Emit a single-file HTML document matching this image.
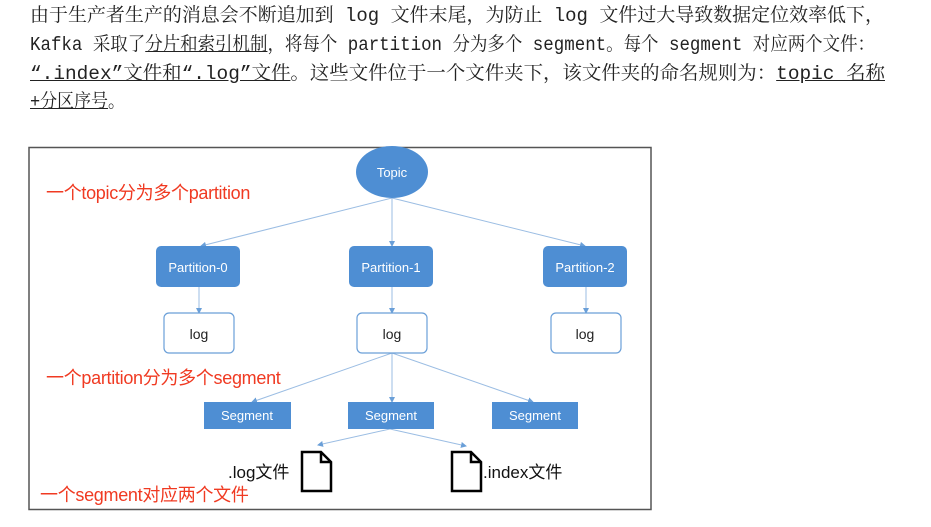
<!DOCTYPE html>
<html><head><meta charset="utf-8"><style>
body{margin:0;width:931px;height:527px;background:#fff;overflow:hidden;position:relative;font-family:"Liberation Sans","Noto Sans CJK SC",sans-serif}
.t{position:absolute;left:30px;font-family:"Liberation Mono","Noto Serif CJK SC",serif;font-size:19px;line-height:24px;color:#222;white-space:nowrap;transform-origin:0 50%}
.u{text-decoration:underline}
</style></head><body>
<div class="t" data-w="854" style="top:4px">由于生产者生产的消息会不断追加到 log 文件末尾，为防止 log 文件过大导致数据定位效率低下，</div>
<div class="t" data-w="845" style="top:33px">Kafka 采取了<span class="u">分片和索引机制</span>，将每个 partition 分为多个 segment。每个 segment 对应两个文件：</div>
<div class="t" data-w="855" style="top:62px"><span class="u">“.index”文件和“.log”文件</span>。这些文件位于一个文件夹下，该文件夹的命名规则为：<span class="u">topic 名称</span></div>
<div class="t" data-w="95" style="top:90px"><span class="u">+分区序号</span>。</div>
<script>
document.querySelectorAll('.t').forEach(function(e){var w=e.getBoundingClientRect().width;var t=+e.getAttribute('data-w');if(w>0)e.style.transform='scaleX('+(t/w)+')';});
</script>
<svg width="931" height="527" style="position:absolute;left:0;top:0" font-family="Liberation Sans, Noto Sans CJK SC, sans-serif">
<defs><marker id="a" markerWidth="6" markerHeight="6" refX="5" refY="3" orient="auto"><path d="M0,0 L6,3 L0,6z" fill="#6a9fd8"/></marker></defs>
<rect x="29" y="147.5" width="622" height="362" fill="none" stroke="#555" stroke-width="1.5"/>
<g stroke="#9bbde3" stroke-width="1" marker-end="url(#a)">
<line x1="392" y1="198" x2="201" y2="246"/>
<line x1="392" y1="198" x2="392" y2="246"/>
<line x1="392" y1="198" x2="585" y2="246"/>
<line x1="199" y1="287" x2="199" y2="313"/>
<line x1="392" y1="287" x2="392" y2="313"/>
<line x1="586" y1="287" x2="586" y2="313"/>
<line x1="392" y1="353" x2="252" y2="402"/>
<line x1="392" y1="353" x2="392" y2="402"/>
<line x1="392" y1="353" x2="533" y2="402"/>
<line x1="390" y1="429" x2="318" y2="445"/>
<line x1="390" y1="429" x2="466" y2="446"/>
</g>
<ellipse cx="392" cy="172" rx="36" ry="26" fill="#4e8ed3"/>
<text x="392" y="177" fill="#fff" font-size="13" text-anchor="middle">Topic</text>
<g fill="#4e8ed3"><rect x="156" y="246" width="84" height="41" rx="5"/><rect x="349" y="246" width="84" height="41" rx="5"/><rect x="543" y="246" width="84" height="41" rx="5"/>
<rect x="204" y="402" width="87" height="27"/><rect x="348" y="402" width="86" height="27"/><rect x="492" y="402" width="86" height="27"/></g>
<g fill="#fff" font-size="13" text-anchor="middle"><text x="198" y="272">Partition-0</text><text x="391" y="272">Partition-1</text><text x="585" y="272">Partition-2</text>
<text x="247" y="420">Segment</text><text x="391" y="420">Segment</text><text x="535" y="420">Segment</text></g>
<g fill="#fff" stroke="#6a9fd8" stroke-width="1.2"><rect x="164" y="313" width="70" height="40" rx="5"/><rect x="357" y="313" width="70" height="40" rx="5"/><rect x="551" y="313" width="70" height="40" rx="5"/></g>
<g fill="#222" font-size="14" text-anchor="middle"><text x="199" y="339">log</text><text x="392" y="339">log</text><text x="585" y="339">log</text></g>
<g fill="#fff" stroke="#000" stroke-width="2.5"><path d="M302,452 H321 L331,462 V491 H302Z M321,452 V462 H331"/><path d="M452,452 H471 L481,462 V491 H452Z M471,452 V462 H481"/></g>
<g fill="#111" font-size="17"><text x="228" y="478">.log文件</text><text x="483" y="478">.index文件</text></g>
<g fill="#f03a22" font-size="18" letter-spacing="-0.3"><text x="46" y="199">一个topic分为多个partition</text><text x="46" y="384">一个partition分为多个segment</text><text x="40" y="501">一个segment对应两个文件</text></g>
</svg>
</body></html>
